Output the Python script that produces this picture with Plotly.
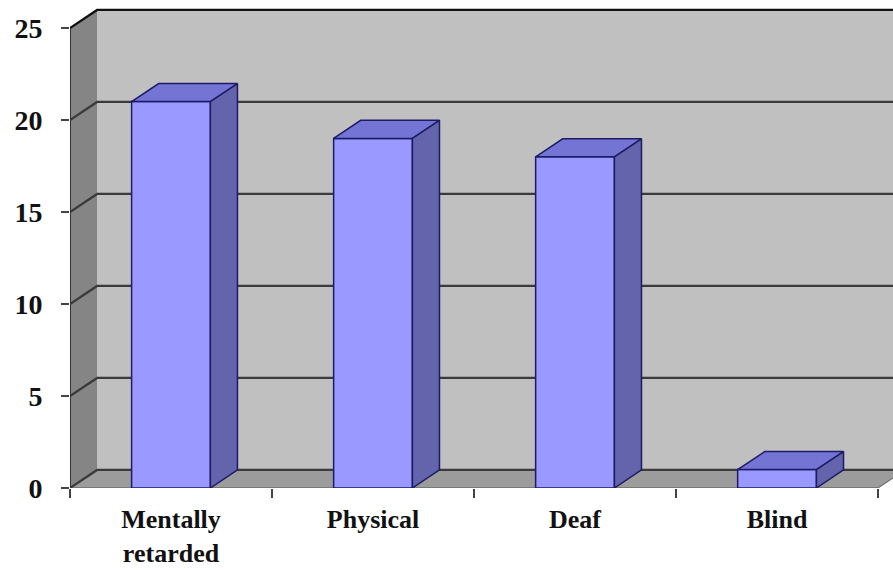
import plotly.graph_objects as go

# Data
categories = ["Mentally<br>retarded", "Physical", "Deaf", "Blind"]
values = [21, 19, 18, 1]
y_ticks = [0, 5, 10, 15, 20, 25]

# 3D-look geometry (in axis units)
bar_w = 0.39      # front face width, fraction of a category slot
depth_x = 0.134   # horizontal depth offset
depth_y = 0.98    # vertical depth offset
x_lo, x_hi = -0.5, 3.574
y_top = 25
n = len(categories)

FONT = "Liberation Serif"
WALL = "#c0c0c0"
SIDE_WALL = "#858585"
FLOOR = "#9c9c9c"
GRID = "#3a3a3a"
FRONT = "#9999ff"
TOP = "#7474d4"
SIDE = "#6464ac"
EDGE = "#1c1c66"

fig = go.Figure()


def poly(xs, ys, fill, line_color=None, width=0):
    fig.add_trace(go.Scatter(
        x=xs + [xs[0]], y=ys + [ys[0]], mode="lines", fill="toself",
        fillcolor=fill,
        line=dict(color=line_color or fill, width=width),
        hoverinfo="skip", showlegend=False))


def seg(xs, ys, color, width):
    fig.add_trace(go.Scatter(
        x=xs, y=ys, mode="lines", line=dict(color=color, width=width),
        hoverinfo="skip", showlegend=False))


# Back wall
poly([x_lo + depth_x, x_hi + 1, x_hi + 1, x_lo + depth_x],
     [depth_y, depth_y, y_top + depth_y, y_top + depth_y], WALL)
# Left side wall
poly([x_lo, x_lo + depth_x, x_lo + depth_x, x_lo],
     [0, depth_y, y_top + depth_y, y_top], SIDE_WALL)
# Floor
poly([x_lo, n - 0.5, n - 0.5 + depth_x, x_lo + depth_x],
     [0, 0, depth_y, depth_y], FLOOR, "#555555", 1)

# Gridlines across the side wall and back wall
for t in y_ticks:
    col = "#111111" if t == y_top else GRID
    seg([x_lo, x_lo + depth_x, x_hi + 1], [t, t + depth_y, t + depth_y], col, 2.2)

# Front edge of the value axis
seg([x_lo, x_lo], [0, y_top], "#333333", 2)

# Bars: front face, top, right side
for i, v in enumerate(values):
    l, r = i - bar_w / 2, i + bar_w / 2
    poly([l, r, r, l], [0, 0, v, v], FRONT, EDGE, 1.5)
    poly([l, r, r + depth_x, l + depth_x], [v, v, v + depth_y, v + depth_y], TOP, EDGE, 1.5)
    poly([r, r + depth_x, r + depth_x, r], [0, depth_y, v + depth_y, v], SIDE, EDGE, 1.5)

# Carrier trace for the category label axis
fig.add_trace(go.Scatter(x=[0], y=[0], xaxis="x2", mode="markers",
                         marker=dict(opacity=0), hoverinfo="skip", showlegend=False))

fig.update_layout(
    width=893, height=570,
    margin=dict(l=70, r=0, t=0, b=82),
    paper_bgcolor="white", plot_bgcolor="white",
    showlegend=False,
    xaxis=dict(range=[x_lo, x_hi], tickvals=[k - 0.5 for k in range(n + 1)],
               showticklabels=False, ticks="outside", ticklen=9, tickwidth=1.5,
               tickcolor="#444444", showgrid=False, zeroline=False, showline=False,
               automargin=False),
    xaxis2=dict(range=[x_lo, x_hi], overlaying="x", anchor="y", side="bottom",
                tickvals=list(range(n)), ticktext=categories, ticks="",
                ticklabelstandoff=13, automargin=False,
                tickfont=dict(family=FONT, size=26, color="#111111", weight="bold"),
                showgrid=False, zeroline=False, showline=False),
    yaxis=dict(range=[0, 488 / 18.4], tickvals=y_ticks, ticks="outside", ticklen=8,
               tickwidth=1.5, tickcolor="#444444", ticklabelstandoff=13,
               automargin=False,
               tickfont=dict(family=FONT, size=28, color="#111111", weight="bold"),
               showgrid=False, zeroline=False, showline=False),
)

fig.write_html("out.html")
